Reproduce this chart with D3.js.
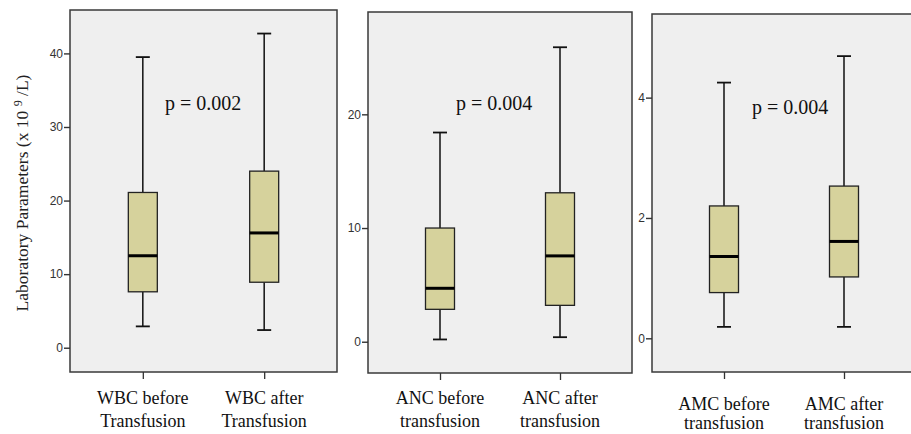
<!DOCTYPE html>
<html>
<head>
<meta charset="utf-8">
<script src="https://cdn.jsdelivr.net/npm/d3@7"></script>
<style>
  body { margin: 0; background: #fff; }
  svg { display: block; }
</style>
</head>
<body>
<div id="scene"></div>
<script>
// boxplot stats: [min whisker, Q1, median, Q3, max whisker]
var wbcStats = [[2.9, 7.6, 12.5, 21.1, 39.5], [2.4, 8.9, 15.6, 24.0, 42.7]];
var ancStats = [[0.2, 2.85, 4.7, 10.0, 18.4], [0.4, 3.2, 7.55, 13.1, 25.9]];
var amcStats = [[0.19, 0.76, 1.36, 2.2, 4.25], [0.19, 1.02, 1.61, 2.53, 4.69]];

var wbcLabels = [["WBC before", "Transfusion"], ["WBC after", "Transfusion"]];
var ancLabels = [["ANC before", "transfusion"], ["ANC after", "transfusion"]];
var amcLabels = [["AMC before", "transfusion"], ["AMC after", "transfusion"]];

var pValues = ["p = 0.002", "p = 0.004", "p = 0.004"];
var yDomains = [[-3.3, 45.9], [-2.75, 29.0], [-0.56, 5.39]];
var yTicks = [[0, 10, 20, 30, 40], [0, 10, 20], [0, 2, 4]];

var ctx = {
  w: 911,
  h: 434,
  boxFill: "#d6d29c",
  panelFill: "#efefef",
  border: "#3a3a3a"
};

// frame geometry for each panel
var panels = [
  {stats: wbcStats, labels: wbcLabels, p: pValues[0], dom: yDomains[0], ticks: yTicks[0],
   left: 70, right: 337, top: 10, bottom: 372, pX: 165, pY: 110, labY: 404, labDy: 23},
  {stats: ancStats, labels: ancLabels, p: pValues[1], dom: yDomains[1], ticks: yTicks[1],
   left: 368, right: 632, top: 12, bottom: 373, pX: 456, pY: 110, labY: 404, labDy: 23},
  {stats: amcStats, labels: amcLabels, p: pValues[2], dom: yDomains[2], ticks: yTicks[2],
   left: 652, right: 916, top: 14, bottom: 372, pX: 752, pY: 114, labY: 410, labDy: 19}
];

var svg = d3.select("#scene").append("svg")
  .attr("width", ctx.w)
  .attr("height", ctx.h);

function drawPanel(pn) {
  var g = svg.append("g");
  var y = d3.scaleLinear().domain(pn.dom).range([pn.bottom, pn.top]);
  var x = d3.scalePoint().domain([0, 1]).range([pn.left, pn.right]).padding(0.6);

  g.append("rect")
    .attr("x", pn.left).attr("y", pn.top)
    .attr("width", pn.right - pn.left).attr("height", pn.bottom - pn.top)
    .attr("fill", ctx.panelFill)
    .attr("stroke", ctx.border)
    .attr("stroke-width", 1.5);

  // y axis ticks
  var yAxis = d3.axisLeft(y).tickValues(pn.ticks).tickSize(6).tickPadding(1).tickFormat(d3.format("d"));
  var ya = g.append("g").attr("transform", "translate(" + pn.left + ",0)").call(yAxis);
  ya.select(".domain").remove();
  ya.selectAll("line").attr("stroke", "#333").attr("stroke-width", 1.4);
  ya.selectAll("text")
    .attr("font-family", "'Liberation Sans Narrow', 'Liberation Sans', sans-serif")
    .attr("font-size", 12)
    .attr("fill", "#333");

  // bottom ticks
  var xa = g.append("g").attr("transform", "translate(0," + pn.bottom + ")")
    .call(d3.axisBottom(x).tickSize(7).tickFormat(""));
  xa.select(".domain").remove();
  xa.selectAll("line").attr("stroke", "#333").attr("stroke-width", 1.3);

  var bw = 29, cw = 14;
  pn.stats.forEach(function(s, i) {
    var cx = x(i);
    var b = g.append("g");
    b.append("line").attr("x1", cx).attr("x2", cx).attr("y1", y(s[4])).attr("y2", y(s[3]))
      .attr("stroke", "#111").attr("stroke-width", 1.5);
    b.append("line").attr("x1", cx).attr("x2", cx).attr("y1", y(s[1])).attr("y2", y(s[0]))
      .attr("stroke", "#111").attr("stroke-width", 1.5);
    b.append("line").attr("x1", cx - cw / 2).attr("x2", cx + cw / 2).attr("y1", y(s[4])).attr("y2", y(s[4]))
      .attr("stroke", "#111").attr("stroke-width", 1.8);
    b.append("line").attr("x1", cx - cw / 2).attr("x2", cx + cw / 2).attr("y1", y(s[0])).attr("y2", y(s[0]))
      .attr("stroke", "#111").attr("stroke-width", 1.8);
    b.append("rect").attr("x", cx - bw / 2).attr("y", y(s[3]))
      .attr("width", bw).attr("height", y(s[1]) - y(s[3]))
      .attr("fill", ctx.boxFill).attr("stroke", "#222").attr("stroke-width", 1.3);
    b.append("line").attr("x1", cx - bw / 2).attr("x2", cx + bw / 2).attr("y1", y(s[2])).attr("y2", y(s[2]))
      .attr("stroke", "#000").attr("stroke-width", 3);

    var t = g.append("text")
      .attr("x", cx).attr("y", pn.labY)
      .attr("text-anchor", "middle")
      .attr("font-family", "'Liberation Serif', serif")
      .attr("font-size", 18)
      .attr("fill", "#111");
    t.append("tspan").attr("x", cx).text(pn.labels[i][0]);
    t.append("tspan").attr("x", cx).attr("dy", pn.labDy).text(pn.labels[i][1]);
  });

  g.append("text")
    .attr("x", pn.pX).attr("y", pn.pY)
    .attr("font-family", "'Liberation Serif', serif")
    .attr("font-size", 20)
    .attr("fill", "#111")
    .text(pn.p);
}

panels.forEach(drawPanel);

// y axis title
var title = svg.append("text")
  .attr("transform", "translate(28,193) rotate(-90)")
  .attr("text-anchor", "middle")
  .attr("font-family", "'Liberation Serif', serif")
  .attr("font-size", 17.5)
  .attr("fill", "#222");
title.append("tspan").text("Laboratory Parameters (x 10 ");
title.append("tspan").attr("font-size", 12).attr("dy", -6).text("9");
title.append("tspan").attr("dy", 6).text(" /L)");
</script>
</body>
</html>
